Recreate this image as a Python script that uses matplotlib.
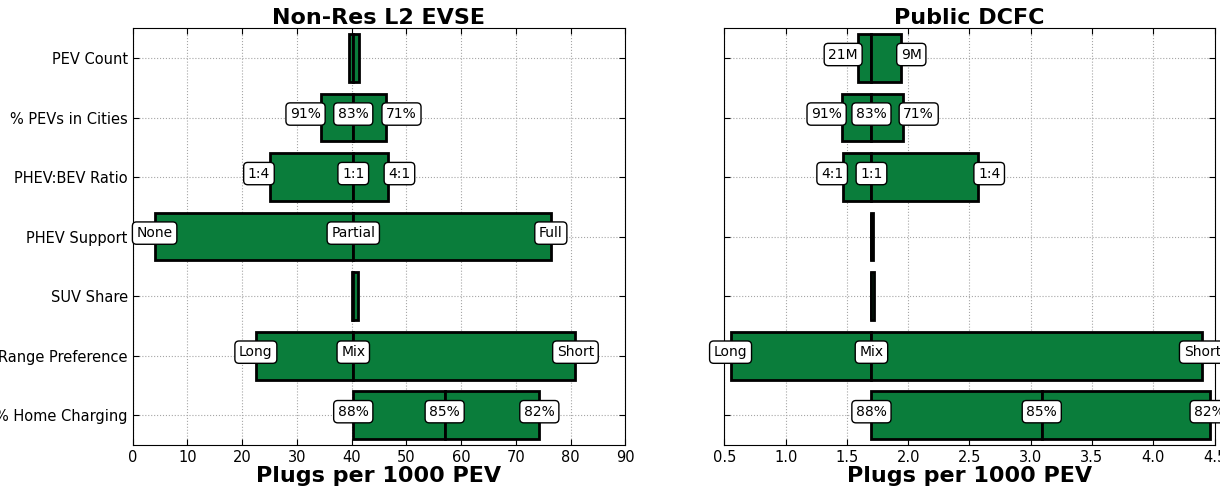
import matplotlib
matplotlib.use("Agg")
import matplotlib.pyplot as plt

categories = ["PEV Count", "% PEVs in Cities", "PHEV:BEV Ratio", "PHEV Support",
              "SUV Share", "Range Preference", "% Home Charging"]

# Non-Res L2 EVSE: low end, mid value, high end of each bar
l2_low = [39.5, 34.4, 25.1, 4.0, 40.0, 22.5, 40.3]
l2_mid = [40.3, 40.3, 40.3, 40.3, 40.3, 40.3, 57.0]
l2_high = [41.4, 46.3, 46.7, 76.4, 41.2, 80.9, 74.3]
l2_labels = [
    None,
    ("91%", "83%", "71%"),
    ("1:4", "1:1", "4:1"),
    ("None", "Partial", "Full"),
    None,
    ("Long", "Mix", "Short"),
    ("88%", "85%", "82%"),
]

# Public DCFC
dc_low = [1.59, 1.46, 1.47, 1.70, 1.70, 0.55, 1.70]
dc_mid = [1.70, 1.70, 1.70, 1.70, 1.70, 1.70, 3.09]
dc_high = [1.94, 1.96, 2.57, 1.71, 1.72, 4.40, 4.46]
dc_labels = [
    ("21M", None, "9M"),
    ("91%", "83%", "71%"),
    ("4:1", "1:1", "1:4"),
    None,
    None,
    ("Long", "Mix", "Short"),
    ("88%", "85%", "82%"),
]

BAR_COLOR = "#0a7d3b"
box = dict(boxstyle="round,pad=0.3", fc="white", ec="black", lw=1)


def draw_panel(ax, low, mid, high, labels, title, xlim, xticks):
    y = range(len(categories))
    left_w = [m - lo for lo, m in zip(low, mid)]
    right_w = [h - m for m, h in zip(mid, high)]
    ax.barh(y, left_w, left=low, height=0.8, color=BAR_COLOR,
            edgecolor="black", linewidth=2, zorder=2)
    ax.barh(y, right_w, left=mid, height=0.8, color=BAR_COLOR,
            edgecolor="black", linewidth=2, zorder=2)

    for i, lab in enumerate(labels):
        if lab is None:
            continue
        # narrow bars in the top rows get their end labels outside the bar
        outside = i < 3
        xs = (low[i], mid[i], high[i])
        has = ("right" if outside else "center", "center", "left" if outside else "center")
        for x, txt, ha in zip(xs, lab, has):
            if txt is None:
                continue
            ax.text(x, i - 0.06, txt, ha=ha, va="center", fontsize=10,
                    bbox=box, zorder=5, clip_on=False)

    ax.set_xlim(*xlim)
    ax.set_xticks(xticks)
    ax.set_ylim(6.5, -0.5)
    ax.set_yticks(list(y))
    ax.set_title(title, fontsize=16, fontweight="bold", pad=3)
    ax.set_xlabel("Plugs per 1000 PEV", fontsize=16, fontweight="bold", labelpad=1)
    ax.grid(True, color="0.65", linestyle=":", linewidth=0.8, zorder=0)
    ax.set_axisbelow(True)
    ax.tick_params(direction="in", top=True, right=True, labelsize=10.5, length=4)


fig = plt.figure(figsize=(12.2, 4.9), dpi=100)
ax1 = fig.add_axes([0.1088, 0.0918, 0.4037, 0.8504])
ax2 = fig.add_axes([0.5938, 0.0918, 0.4017, 0.8504])

draw_panel(ax1, l2_low, l2_mid, l2_high, l2_labels, "Non-Res L2 EVSE",
           (0, 90), range(0, 91, 10))
ax1.set_yticklabels(categories)

draw_panel(ax2, dc_low, dc_mid, dc_high, dc_labels, "Public DCFC",
           (0.5, 4.5), [0.5, 1.0, 1.5, 2.0, 2.5, 3.0, 3.5, 4.0, 4.5])
ax2.set_yticklabels([])
ax2.set_xticklabels(["0.5", "1.0", "1.5", "2.0", "2.5", "3.0", "3.5", "4.0", "4.5"])

fig.savefig("out.png", dpi=100)
